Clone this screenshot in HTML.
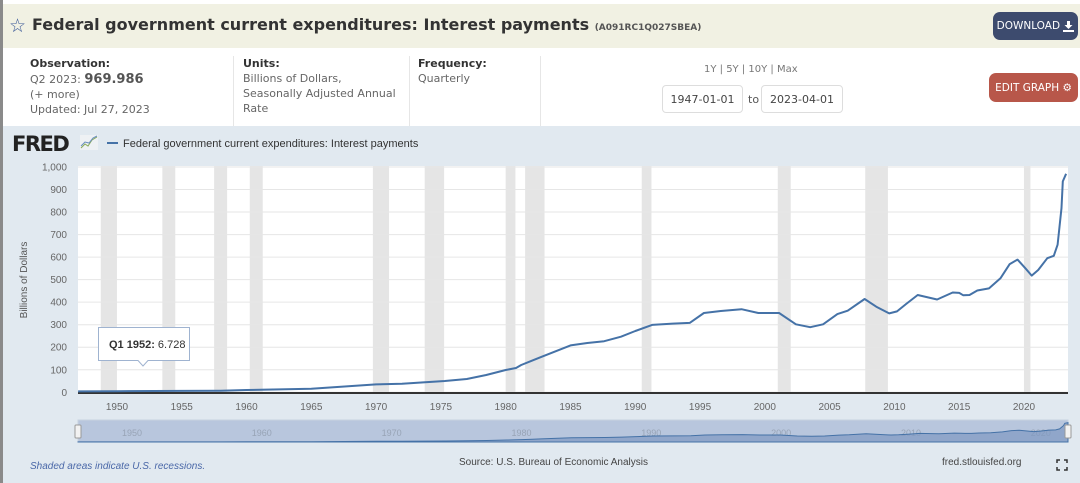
<!DOCTYPE html>
<html><head><meta charset="utf-8">
<style>
*{box-sizing:border-box;margin:0;padding:0}
body{width:1080px;height:483px;overflow:hidden;background:#fff;font-family:"DejaVu Sans","Liberation Sans",sans-serif;position:relative}
.abs{position:absolute}
#leftbar{left:0;top:0;width:3px;height:483px;background:#8a8a8a}
#titleband{left:3px;top:4px;width:1077px;height:44px;background:#f1f1e3}
#title{left:32px;top:15px;font-size:16px;font-weight:bold;color:#333;white-space:nowrap}
#title small{font-size:9px;color:#555;font-weight:bold}
.lbl{font-size:11px;font-weight:bold;color:#333}
.txt{font-size:11px;color:#666;line-height:15px}
.btn{color:#fff;font-size:10.5px;border-radius:7px;display:flex;align-items:center;justify-content:center;font-family:"DejaVu Sans",sans-serif}
.date{border:1px solid #ddd;border-radius:4px;font-size:11px;color:#444;display:flex;align-items:center;justify-content:center}
#chartbg{left:3px;top:126px;width:1077px;height:357px;background:#e1e9f0}
</style></head><body>
<div class="abs" id="leftbar"></div>
<div class="abs" id="titleband"></div>
<div class="abs" style="left:9px;top:15px;font-size:19px;color:#3b5998">☆</div>
<div class="abs" id="title">Federal government current expenditures: Interest payments <small>(A091RC1Q027SBEA)</small></div>
<div class="abs btn" style="left:993px;top:12px;width:85px;height:28px;background:#3d4b6e">DOWNLOAD&nbsp;<svg width="11" height="11" viewBox="0 0 11 11"><path d="M4,0h3v4h2.5L5.5,8L1.5,4H4Z M0,9h11v2H0Z" fill="#fff"/></svg></div>

<div class="abs lbl" style="left:30px;top:57px">Observation:</div>
<div class="abs txt" style="left:30px;top:72px">Q2 2023: <b style="font-size:13px;color:#555">969.986</b><br>(+ more)<br>Updated: Jul 27, 2023</div>
<div class="abs" style="left:233px;top:56px;width:1px;height:70px;background:#e6e6e6"></div>
<div class="abs lbl" style="left:243px;top:57px">Units:</div>
<div class="abs txt" style="left:243px;top:71px">Billions of Dollars,<br>Seasonally Adjusted Annual<br>Rate</div>
<div class="abs" style="left:409px;top:56px;width:1px;height:70px;background:#e6e6e6"></div>
<div class="abs lbl" style="left:418px;top:57px">Frequency:</div>
<div class="abs txt" style="left:418px;top:71px">Quarterly</div>
<div class="abs" style="left:540px;top:56px;width:1px;height:70px;background:#e6e6e6"></div>
<div class="abs txt" style="left:704px;top:62px;font-size:10px;color:#777">1Y | 5Y | 10Y | Max</div>
<div class="abs date" style="left:662px;top:85px;width:81px;height:28px">1947-01-01</div>
<div class="abs txt" style="left:748px;top:92px;color:#555">to</div>
<div class="abs date" style="left:761px;top:85px;width:82px;height:28px">2023-04-01</div>
<div class="abs btn" style="left:989px;top:73px;width:89px;height:29px;background:#b8574a">EDIT GRAPH ⚙</div>

<div class="abs" id="chartbg"></div>
<svg class="abs" style="left:0;top:0" width="1080" height="483" id="chart"></svg>

<script>
const years=[1947,1950,1955,1958,1960,1965,1970,1972,1975.3,1977,1978.5,1980,1980.8,1981.2,1982,1982.65,1985,1986.3,1987.6,1988.9,1990,1991.3,1992.9,1994.2,1995.3,1996.6,1998.2,1999.5,2001.1,2002.4,2003.5,2004.5,2005.6,2006.4,2007.7,2008.6,2009.6,2010.2,2010.9,2011.8,2013.3,2014.5,2015.0,2015.3,2015.8,2016.4,2017.3,2018.2,2018.9,2019.5,2020.1,2020.6,2021.1,2021.8,2022.3,2022.6,2022.9,2023.0,2023.25];
const values=[4,5,6,7,10,16,35,38,50,59,77,99,108,121,140,155,208,219,227,247,272,299,305,308,352,361,369,352,352,302,289,302,347,362,414,380,350,359,392,432,412,443,441,431,432,452,461,507,569,589,551,518,543,595,606,655,818,936,970];
const yTicks=[0,100,200,300,400,500,600,700,800,900,1000];
const yTickLabels=["0","100","200","300","400","500","600","700","800","900","1,000"];
const xTicks=[1950,1955,1960,1965,1970,1975,1980,1985,1990,1995,2000,2005,2010,2015,2020];
const navTicks=[1950,1960,1970,1980,1990,2000,2010,2020];
const recStart=[1948.75,1953.5,1957.5,1960.25,1969.75,1973.75,1980.0,1981.5,1990.5,2001.0,2007.75,2020.0];
const recEnd=[1950.0,1954.5,1958.5,1961.25,1971.0,1975.25,1980.75,1983.0,1991.25,2002.0,2009.5,2020.5];

const NS="http://www.w3.org/2000/svg";
const svg=document.getElementById('chart');
const X0=78.1,PPY=12.957,Y0=392.3,PPV=0.2253;
const xS=y=>X0+(y-1947)*PPY;
const yS=v=>Y0-v*PPV;
function mk(t,a,p){const e=document.createElementNS(NS,t);for(const k in a)e.setAttribute(k,a[k]);(p||svg).appendChild(e);return e;}

let e=mk('rect',{x:78,y:166,width:990,height:227,fill:'#fff'});


recStart.forEach((s,i)=>{
  const r=mk('rect',{x:xS(s),y:166,width:xS(recEnd[i])-xS(s),height:227,fill:'#e5e5e5'});
  
  
});
yTicks.forEach((t,i)=>{
  const g=mk('line',{x1:78,x2:1068,y1:yS(t),y2:yS(t),stroke:'#e6e6e6','stroke-width':1});
  
  
  const l=mk('text',{x:67,y:yS(t)+3.5,'text-anchor':'end','font-size':10,fill:'#666','font-family':'Liberation Sans, sans-serif'});
  l.textContent=yTickLabels[i];
  
  
});
e=mk('line',{x1:78,x2:1068,y1:393,y2:393,stroke:'#333','stroke-width':2});


xTicks.forEach(t=>{
  const l=mk('text',{x:xS(t),y:410,'text-anchor':'middle','font-size':10,fill:'#666','font-family':'Liberation Sans, sans-serif'});
  l.textContent=t;
  
  
});
e=mk('text',{x:27,y:280,'text-anchor':'middle','font-size':10,fill:'#555',transform:'rotate(-90 27 280)','font-family':'Liberation Sans, sans-serif'});
e.textContent='Billions of Dollars';



const pts=years.map((y,i)=>xS(y).toFixed(1)+','+yS(values[i]).toFixed(1)).join(' ');
e=mk('polyline',{points:pts,fill:'none',stroke:'#4572a7','stroke-width':2,'stroke-linejoin':'round'});



const tg=mk('g',{});


mk('path',{d:'M98.5,327.5 H189.5 V360.5 H148 L143,366 L138,360.5 H98.5 Z',fill:'#fff',stroke:'#9fb3d0','stroke-width':1},tg);
const tt=mk('text',{x:109,y:348,'font-size':11,fill:'#333','font-family':'Liberation Sans, sans-serif'},tg);
tt.innerHTML='<tspan font-weight="bold">Q1 1952:</tspan> 6.728';

const NX0=78,NX1=1068,NY0=420,NY1=442;
const nxS=y=>NX0+(y-1947)*(NX1-NX0)/76.25;
const nyS=v=>NY1-v*(NY1-NY0-2)/1000;
e=mk('rect',{x:NX0,y:NY0,width:NX1-NX0,height:NY1-NY0,fill:'#b8c6dd',stroke:'#c8d2e0'});


navTicks.forEach(t=>{
  const l=mk('text',{x:nxS(t)+5,y:436,'font-size':9,fill:'#98a4b6','font-family':'Liberation Sans, sans-serif'});
  l.textContent=t;
  
  
});
const npts=years.map((y,i)=>nxS(y).toFixed(1)+','+nyS(values[i]).toFixed(1));
e=mk('polygon',{points:NX0+','+NY1+' '+npts.join(' ')+' '+NX1+','+NY1,fill:'#7f99c2','fill-opacity':0.7,stroke:'#4572a7','stroke-width':1});


[NX0,NX1].forEach(x=>{
  const h=mk('rect',{x:x-3,y:425,width:6,height:13,fill:'#f2f2f2',stroke:'#999',rx:1});
  
  
});

e=mk('text',{x:12,y:151,'font-size':21,'font-weight':'bold',fill:'#222','font-family':'DejaVu Sans, sans-serif','letter-spacing':'-1.5'});
e.textContent='FRED';


e=mk('rect',{x:80,y:135,width:18,height:15,fill:'#eef1f4'});


mk('polyline',{points:'81,148 85,144 88,146 92,140 97,137',fill:'none',stroke:'#8aab5a','stroke-width':1});
mk('polyline',{points:'81,146 85,142 89,143 93,138 97,136',fill:'none',stroke:'#6b8fc0','stroke-width':1});
e=mk('line',{x1:107,x2:118,y1:143,y2:143,stroke:'#4572a7','stroke-width':2});


e=mk('text',{x:123,y:147,'font-size':11,fill:'#333','font-family':'Liberation Sans, sans-serif'});
e.textContent='Federal government current expenditures: Interest payments';



e=mk('text',{x:30,y:469,'font-size':10,fill:'#4a68a8','font-style':'italic','font-family':'Liberation Sans, sans-serif'});
e.textContent='Shaded areas indicate U.S. recessions.';


e=mk('text',{x:459,y:465,'font-size':10,fill:'#444','font-family':'Liberation Sans, sans-serif'});
e.textContent='Source: U.S. Bureau of Economic Analysis';


e=mk('text',{x:942,y:465,'font-size':10,fill:'#444','font-family':'Liberation Sans, sans-serif'});
e.textContent='fred.stlouisfed.org';


e=mk('path',{d:'M1057,463 v-3 h3 M1064,460 h3 v3 M1067,467 v3 h-3 M1060,470 h-3 v-3',fill:'none',stroke:'#333','stroke-width':1.5});


</script>
</body></html>
